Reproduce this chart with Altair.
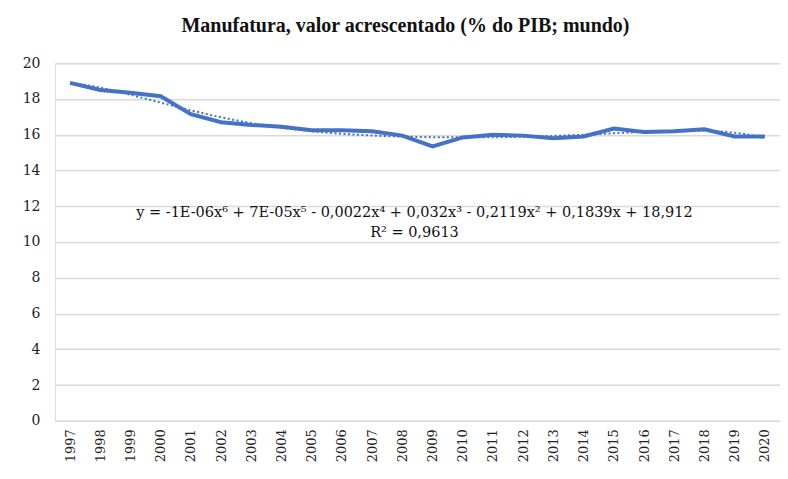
import altair as alt
import pandas as pd

years = list(range(1997, 2021))
values = [18.9, 18.5, 18.35, 18.15, 17.15, 16.7, 16.55, 16.45, 16.25, 16.25,
          16.2, 15.95, 15.35, 15.85, 16.0, 15.95, 15.8, 15.9, 16.35, 16.15,
          16.2, 16.3, 15.9, 15.9]
eq_lines = ["y = -1E-06x⁶ + 7E-05x⁵ - 0,0022x⁴ + 0,032x³ - 0,2119x² + 0,1839x + 18,912",
            "R² = 0,9613"]

df = pd.DataFrame({"year": years, "value": values})
df["idx"] = range(1, len(years) + 1)

BLUE = "#4472C4"
FONT = "DejaVu Serif"
TFONT = "Liberation Serif"

x_enc = alt.X("idx:Q",
              scale=alt.Scale(domain=[0.5, 24.5], nice=False, zero=False),
              axis=alt.Axis(values=list(range(1, 25)), labelExpr="datum.value + 1996",
                            labelAngle=-90, labelAlign="right", labelBaseline="middle",
                            labelFont=FONT, labelFontSize=13, labelColor="#222",
                            labelPadding=8, grid=False, ticks=False, domain=False,
                            title=None))
y_enc = alt.Y("value:Q",
              scale=alt.Scale(domain=[0, 20], nice=False),
              axis=alt.Axis(values=list(range(0, 21, 2)), labelFont=FONT, labelFontSize=14,
                            labelColor="#222", labelPadding=15, ticks=False, domain=False,
                            gridColor="#d9d9d9", gridWidth=1.5, title=None,
                            minExtent=33, maxExtent=33))

base = alt.Chart(df)

trend = base.transform_regression("idx", "value", method="poly", order=6,
                                  extent=[1, 24]).mark_line(
    color=BLUE, strokeWidth=2, strokeDash=[2, 2.5]).encode(x=x_enc, y=y_enc)

line = base.mark_line(color=BLUE, strokeWidth=4).encode(x=x_enc, y=y_enc)

eq = alt.Chart(pd.DataFrame({"t": [eq_lines[0]]})).mark_text(
    font=FONT, fontSize=14.5, color="#111").encode(
    text="t:N", x=alt.value(360), y=alt.value(150))
r2 = alt.Chart(pd.DataFrame({"t": [eq_lines[1]]})).mark_text(
    font=FONT, fontSize=14.5, color="#111").encode(
    text="t:N", x=alt.value(360), y=alt.value(170))

chart = alt.layer(line, trend, eq, r2).properties(
    width=726, height=358,
    padding={"left": 14, "top": 8, "right": 0, "bottom": 0},
    title=alt.TitleParams("Manufatura, valor acrescentado (% do PIB; mundo)",
                          font=TFONT, fontSize=20, fontWeight="bold", color="#111",
                          offset=20, dx=-12, anchor="middle"),
).configure_view(stroke=None).configure(background="white")

chart.save("out.html", embed_options={"renderer": "svg", "actions": False})
